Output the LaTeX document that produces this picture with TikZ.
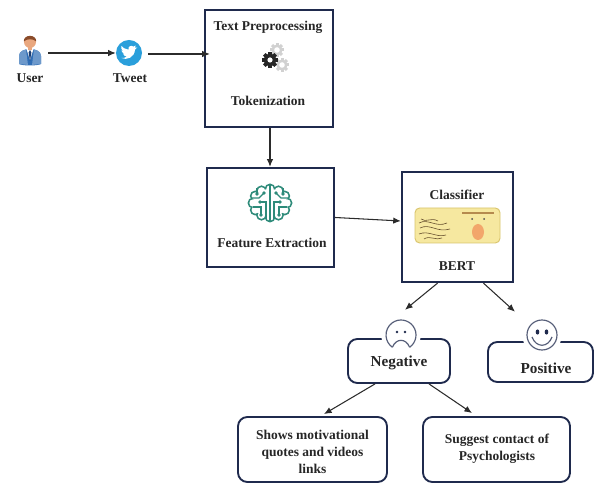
\documentclass[tikz,border=0pt]{standalone}
\usepackage{fontspec}
\setmainfont{Liberation Serif}
\usetikzlibrary{arrows.meta}
\definecolor{boxnavy}{HTML}{1F2A4D}
\definecolor{arrowgray}{HTML}{2B2B2B}
\definecolor{twblue}{HTML}{2A9FDB}
\definecolor{userblue}{HTML}{2F6DB5}
\definecolor{tiedark}{HTML}{1B3E73}
\definecolor{skin}{HTML}{E9A77E}
\definecolor{hairbrown}{HTML}{8A4B2A}
\definecolor{brainteal}{HTML}{2E8B7A}
\definecolor{bertyellow}{HTML}{F6E8A0}
\definecolor{bertedge}{HTML}{D9C46C}
\definecolor{bertorange}{HTML}{F2A66B}
\definecolor{bertbrown}{HTML}{B58A4E}

\begin{document}
\begin{tikzpicture}[x=0.03cm,y=0.03cm,
  stage/.style={draw=boxnavy, line width=2pt, fill=white, inner sep=0pt},
  outcome/.style={draw=boxnavy, line width=1.6pt, fill=white, rounded corners=0.28cm, inner sep=0pt},
  lbl/.style={font=\bfseries\fontsize{11.5}{14.5}\selectfont, align=center, inner sep=0pt, text=black!85},
  biglbl/.style={lbl, font=\bfseries\fontsize{13}{15}\selectfont},
  arr/.style={draw=arrowgray, line width=0.9pt, -{Latex[length=6.5pt,width=5.5pt]}},
  face/.style={circle, fill=white, minimum size=0.9cm, inner sep=0pt, preaction={draw=white, line width=8pt}},
  facestroke/.style={draw=boxnavy!75, line width=1pt},
  icon/.style={inner sep=0pt, minimum size=#1}]
  \useasboundingbox (0,0) rectangle (597,485);

  % boxes
  \node[stage, minimum width=3.84cm, minimum height=3.51cm] (tp) at (269,416.5) {};
  \node[stage, minimum width=3.81cm, minimum height=2.97cm] (fe) at (270.5,267.5) {};
  \node[stage, minimum width=3.33cm, minimum height=3.3cm] (cl) at (457.5,258) {};
  \node[outcome, minimum width=3.06cm, minimum height=1.32cm] (neg) at (399,124) {};
  \node[outcome, minimum width=3.15cm, minimum height=1.2cm] (pos) at (540.5,123) {};
  \node[outcome, minimum width=4.47cm, minimum height=1.95cm] (mot) at (312.5,35.5) {};
  \node[outcome, minimum width=4.41cm, minimum height=1.95cm] (psy) at (496.5,35.5) {};

  % user
  \node[icon=1.08cm] (user) at (30,432) {};
  \begin{scope}[shift={(30,435)}]
    \fill[userblue] (-11,-14) -- (-11,-6) .. controls (-11,-1) and (-5,1) .. (0,1)
      .. controls (5,1) and (11,-1) .. (11,-6) -- (11,-14) .. controls (7,-16) and (-7,-16) .. (-11,-14) -- cycle;
    \fill[userblue!70!white] (-11,-14) -- (-11,-6) .. controls (-11,-2) and (-7,0) .. (-4,0.5) -- (-2,-15) -- cycle;
    \fill[userblue!70!white] (11,-14) -- (11,-6) .. controls (11,-2) and (7,0) .. (4,0.5) -- (2,-15) -- cycle;
    \fill[white] (-3.5,1) -- (0,-10) -- (3.5,1) -- cycle;
    \fill[tiedark] (0,0) -- (-1.4,-2.5) -- (0,-11) -- (1.4,-2.5) -- cycle;
    \fill[skin] (-2.2,0) rectangle (2.2,3.5);
    \fill[skin] (0,8) circle[radius=6];
    \fill[hairbrown] (-6.2,8.5) .. controls (-6.5,16) and (6.5,16) .. (6.2,8.5)
      .. controls (3.5,11.5) and (-3.5,11.5) .. (-6.2,8.5) -- cycle;
  \end{scope}
  \node[lbl] (userlbl) at (30,407) {User};

  % tweet
  \node[icon=0.78cm, circle, fill=twblue] (tweet) at (129,432) {};
  \begin{scope}[shift={(129,432)}, scale=1.1]
    \fill[white] (-7,-4.5) .. controls (-2,-7) and (5,-4) .. (5.5,3) -- (7.5,5) -- (5.5,4.8)
      -- (6,6.8) -- (4,5.8) .. controls (2,7.5) and (-1,6) .. (-0.5,3)
      .. controls (-3.5,3.3) and (-6,5) .. (-7,6.5) .. controls (-7.5,4.5) and (-7,3) .. (-5.5,2)
      -- (-7,2.3) .. controls (-6.5,0.5) and (-5.5,0) .. (-4,-0.3) -- (-5.5,-0.5)
      .. controls (-5,-2.2) and (-3.5,-3) .. (-2,-3.2) .. controls (-3.5,-4.3) and (-5,-4.7) .. (-7,-4.5) -- cycle;
  \end{scope}
  \node[lbl] (tweetlbl) at (130,407) {Tweet};

  % text preprocessing
  \node[lbl] (tptitle) at (268,458) {Text Preprocessing};
  \foreach \c in {(277,435),(282,420)} {
    \foreach \a in {0,45,...,315}
      \fill[black!18, shift=\c, rotate=\a] (-1.5,0) rectangle (1.5,7);
    \fill[black!18, shift=\c] (0,0) circle[radius=5.5];
    \fill[white, shift=\c] (0,0) circle[radius=2.8];
  }
  \foreach \a in {0,45,...,315}
    \fill[black!85, shift={(270,425)}, rotate=\a] (-1.8,0) rectangle (1.8,8);
  \fill[black!85] (270,425) circle[radius=6.2];
  \fill[white] (270,425) circle[radius=2.6];
  \node[lbl] (tok) at (268,384) {Tokenization};

  % feature extraction
  \foreach \a in {0,30,...,330}
    \fill[brainteal, shift={(270,282)}] (\a:17 and 14) circle[radius=5.5];
  \foreach \a in {0,30,...,330}
    \fill[white, shift={(270,282)}] (\a:17 and 14) circle[radius=3.7];
  \fill[white, shift={(270,282)}] (0,0) ellipse[x radius=17, y radius=14];
  \begin{scope}[shift={(270,282)}, brainteal, line width=1pt]
    \draw (0,18) -- (0,-18);
    \draw (-19,5) -- (-11,5) -- (-6,10);
    \draw (-17,-4) -- (-9,-4) -- (-9,-12);
    \draw (-13,15) -- (-13,9);
    \draw (-4,-16) -- (-4,1) -- (-10,1);
    \draw (19,5) -- (11,5) -- (6,10);
    \draw (17,-4) -- (9,-4) -- (9,-12);
    \draw (13,15) -- (13,9);
    \draw (4,-16) -- (4,1) -- (10,1);
    \foreach \p in {(-6,10),(-9,-12),(-13,9),(-10,1),(6,10),(9,-12),(13,9),(10,1)}
      \fill \p circle[radius=1.8];
  \end{scope}
  \node[lbl] (felbl) at (272,242) {Feature Extraction};

  % classifier
  \node[lbl] (cltitle) at (457,290) {Classifier};
  \fill[bertyellow, draw=bertedge, line width=0.8pt, rounded corners=4pt] (415,242) rectangle (500,277);
  \begin{scope}[black!45!bertbrown, line width=0.5pt]
    \draw (419,262) .. controls (428,267) and (436,257) .. (447,262);
    \draw (420,257) .. controls (430,262) and (437,252) .. (450,256);
    \draw (419,251) .. controls (429,255) and (436,247) .. (446,250);
    \draw (421,266) .. controls (426,262) and (431,268) .. (438,264);
    \draw (424,246) .. controls (430,250) and (436,244) .. (442,247);
  \end{scope}
  \draw[bertbrown, line width=1pt] (462,272) -- (494,272);
  \fill[black!70] (472,266) circle[radius=1];
  \fill[black!70] (484,266) circle[radius=1];
  \fill[bertorange] (478,253) ellipse[x radius=6, y radius=8];
  \node[lbl] (bert) at (457,219) {BERT};

  % outcomes
  \node[face] (sad) at (401,150) {};
  \draw[facestroke] (sad.center) ++(-55:15) arc[start angle=-55, end angle=235, radius=15];
  \draw[facestroke] (392.4,137.7) .. controls (396,147) and (406,147) .. (409.6,137.7);
  \fill[boxnavy] (397,153) circle[radius=1.3];
  \fill[boxnavy] (405,153) circle[radius=1.3];
  \node[biglbl] (neglbl) at (399,122) {Negative};

  \node[face] (happy) at (542,150) {};
  \draw[facestroke] (happy) circle[radius=15];
  \fill[boxnavy] (537.5,153) ellipse[x radius=1.8, y radius=2.6];
  \fill[boxnavy] (546.5,153) ellipse[x radius=1.8, y radius=2.6];
  \draw[facestroke] (532,148) .. controls (536,137) and (548,137) .. (552,148);
  \node[biglbl] (poslbl) at (546,117) {Positive};

  \node[lbl] (motlbl) at (312.5,33) {Shows motivational\\quotes and videos\\links};
  \node[lbl] (psylbl) at (497,36.5) {Suggest contact of\\Psychologists};

  % flow
  \draw[arr] (user.east) -- (tweet.west);
  \draw[arr] ([shift={(6,-1)}]tweet.east) -- ([shift={(6,-1)}]tweet.east -| tp.west);
  \draw[arr] ([shift={(1,0)}]tp.south) -- ([shift={(1,0)}]tp.south |- fe.north);
  \draw[arr] (fe.east) -- ([shift={(0,6)}]cl.west);
  \draw[arr] ([shift={(-20,0)}]cl.south) -- ([shift={(4,10)}]sad.north);
  \draw[arr] ([shift={(26,0)}]cl.south) -- ([shift={(-27,8)}]happy.north);
  \draw[arr] ([shift={(-24,0)}]neg.south) -- ([shift={(11.5,2)}]mot.north);
  \draw[arr] ([shift={(30,0)}]neg.south) -- ([shift={(-24.5,3)}]psy.north);
\end{tikzpicture}
\end{document}
